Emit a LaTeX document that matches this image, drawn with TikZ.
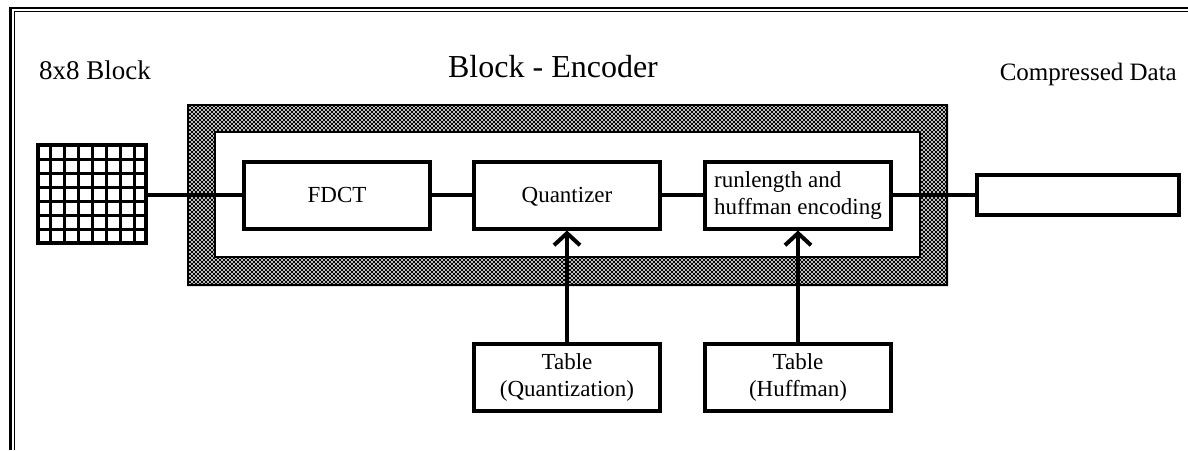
\documentclass[tikz,border=0pt]{standalone}
\usepackage{fontspec}
\setmainfont{Liberation Serif}
\usetikzlibrary{patterns,arrows.meta}
\pgfdeclarepatternformonly{dither}{\pgfqpoint{-1.1pt}{-1.1pt}}{\pgfqpoint{3.1pt}{3.1pt}}{\pgfqpoint{4pt}{4pt}}{%
  \pgfpathcircle{\pgfqpoint{0pt}{0pt}}{1.1pt}
  \pgfpathcircle{\pgfqpoint{2pt}{2pt}}{1.1pt}
  \pgfusepath{fill}}
\begin{document}
\begin{tikzpicture}[x=1pt,y=-1pt,
  stage/.style={draw, line width=4pt, inner sep=0pt, minimum width=186pt, minimum height=67pt,
    font=\fontsize{23}{27}\selectfont, align=center},
  link/.style={line width=3.5pt},
  feed/.style={line width=4pt, -{Straight Barb[length=12pt,width=26pt]}}]
\useasboundingbox (0,0) rectangle (1188,450);
\draw [line width=2.5pt] (10.5,450) -- (10.5,8) -- (1188,8);
\draw [line width=1.3pt] (14.3,450) -- (14.3,11.8) -- (1188,11.8);
\node (lblin) [anchor=base west, inner sep=0pt, font=\fontsize{27}{32}\selectfont] at (39,79) {8x8 Block};
\node (title) [anchor=base, inner sep=0pt, font=\fontsize{32}{38}\selectfont] at (553,77) {Block - Encoder};
\node (lblout) [anchor=base east, inner sep=0pt, font=\fontsize{25}{30}\selectfont] at (1177,80) {Compressed Data};
\fill [black, even odd rule] (187,104) rectangle (948,286) (215,132) rectangle (920,257);
\path [pattern=dither, pattern color=white, even odd rule] (187,104) rectangle (948,286) (215,132) rectangle (920,257);
\draw [line width=2pt] (188,105) rectangle (947,285) (215,132) rectangle (920,257);
\node (blk) [draw, line width=4pt, inner sep=0pt, minimum width=108pt, minimum height=98pt] at (92,194) {};
\foreach \gx in {50,64,...,134}
  \draw [line width=3pt] (\gx,143) -- (\gx,245);
\foreach \gy in {159,173,...,229}
  \draw [line width=3pt] (36,\gy) -- (148,\gy);
\node (fdct) [stage] at (337,195) {FDCT};
\node (quant) [stage, text depth=0pt] at (567,195) {Quantizer};
\node (rle) [stage, align=left] at (798,195) {runlength and\\huffman encoding};
\node (out) [stage, minimum width=202pt, minimum height=40pt] at (1078,195) {};
\node (tq) [stage] at (567,377) {Table\\(Quantization)};
\node (th) [stage] at (798,377) {Table\\(Huffman)};
\draw [link] (blk.east |- fdct.west) -- (fdct.west);
\draw [link] (fdct) -- (quant);
\draw [link] (quant) -- (rle);
\draw [link] (rle) -- (out);
\draw [feed] (tq) -- (quant);
\draw [feed] (th) -- (rle);
\end{tikzpicture}
\end{document}
